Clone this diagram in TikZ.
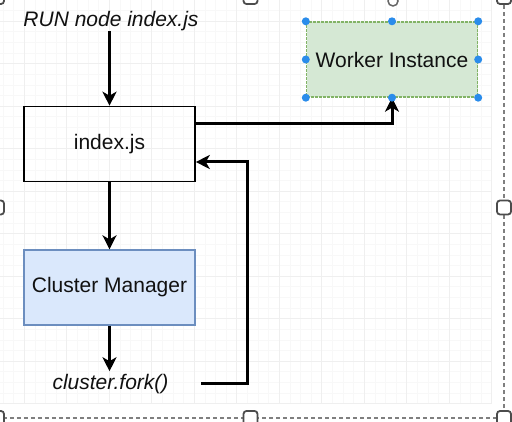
\documentclass[tikz,border=0pt]{standalone}
\usepackage{fontspec}
\setmainfont{Liberation Sans}
\usetikzlibrary{arrows.meta,calc}
\definecolor{wkfill}{HTML}{D5E8D4}
\definecolor{wkdraw}{HTML}{82B366}
\definecolor{cmfill}{HTML}{DAE8FC}
\definecolor{cmdraw}{HTML}{6C8EBF}
\definecolor{handleblue}{HTML}{2A8CEB}
\definecolor{gridmaj}{HTML}{EFEFEF}
\definecolor{gridmin}{HTML}{F8F8F8}
\definecolor{selgray}{HTML}{7F7F7F}
\definecolor{txt}{HTML}{111111}
\begin{document}
\begin{tikzpicture}[x=1pt,y=-1pt,
  box/.style={draw, line width=1.6pt, minimum width=171pt, minimum height=75pt, inner sep=0pt, text=txt, font=\fontsize{21}{25}\selectfont},
  lbl/.style={inner sep=0pt, text=txt, font=\fontsize{21}{25}\selectfont\itshape},
  arr/.style={line width=3pt, -{Stealth[length=14pt,width=14pt,inset=4pt]}},
  bh/.style={circle, fill=handleblue, inner sep=0pt, minimum size=8pt},
  sh/.style={draw=black!70, fill=white, line width=1.8pt, rounded corners=3pt, minimum size=14pt, inner sep=0pt}]
\clip (0,0) rectangle (512,422);
\fill[white] (0,0) rectangle (512,422);
% grid
\foreach \i in {0,...,46} {\draw[gridmin, line width=0.7pt] ({3.05+10.625*\i},0) -- ({3.05+10.625*\i},403.7);}
\foreach \i in {0,...,37} {\draw[gridmin, line width=0.7pt] (0,{10.575+10.625*\i}) -- (491.8,{10.575+10.625*\i});}
\foreach \i in {0,...,11} {\draw[gridmaj, line width=0.8pt] ({24.3+42.5*\i},0) -- ({24.3+42.5*\i},403.7);}
\foreach \i in {0,...,9} {\draw[gridmaj, line width=0.8pt] (0,{21.2+42.5*\i}) -- (491.8,{21.2+42.5*\i});}
% selection frame
\draw[selgray, line width=1.5pt, dash pattern=on 4pt off 3pt] (-3,-3) rectangle (504,418);
% nodes
\node[box] (idx) at (109.5,144) {index.js};
\node[box, fill=cmfill, draw=cmdraw, line width=1.3pt] (cm) at (109.5,287.5) {Cluster Manager};
\node[box, fill=wkfill, draw=wkdraw, line width=1.4pt, dash pattern=on 3pt off 1pt] (wk) at (392,59.5) {Worker Instance};
\node[lbl] (run) at (111,21) {RUN node index.js};
\node[lbl, minimum width=181pt, outer ysep=3pt] (fork) at (110.5,384) {cluster.fork()};
% connectors
\draw[arr] (run.south -| idx.north) -- (idx.north);
\draw[arr] ([yshift=20pt]idx.east) -| (wk.south);
\draw[arr] (idx.south) -- (cm.north);
\draw[arr] (cm.south) -- (cm.south |- fork.north);
\coordinate (bend) at (247.5,162);
\draw[arr] (fork.east) -| (bend) -- ([yshift=-18pt]idx.east);
% selection handles of the worker box
\foreach \a in {north west,north,north east,west,east,south west,south,south east}
  {\node[bh] at (wk.\a) {};}
% rotation handle
\draw[black!60, line width=1.5pt] (393,1) circle (5pt);
% frame handles
\foreach \p in {(-3,-3),(250.5,-3),(504,-3),(-3,207.5),(504,207.5),(-3,418),(250.5,418),(504,418)}
  {\node[sh] at \p {};}
\end{tikzpicture}
\end{document}
